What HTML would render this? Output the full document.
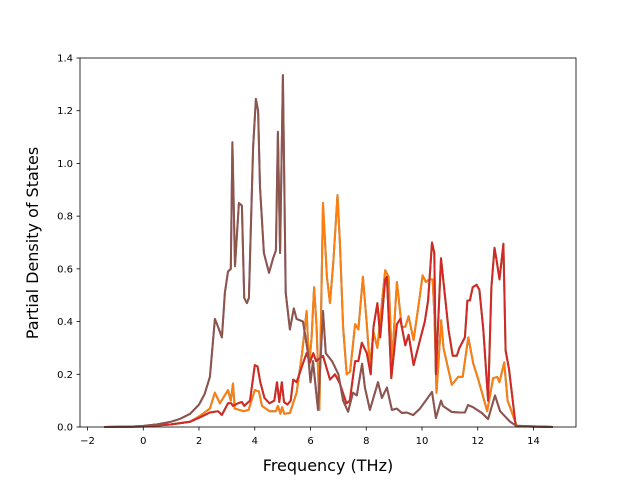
<!DOCTYPE html>
<html><head><meta charset="utf-8"><style>
body{margin:0;background:#fff}
svg text{font-family:"DejaVu Sans","Liberation Sans",sans-serif;fill:#000}
</style></head><body>
<svg id="chart" width="640" height="480" xmlns="http://www.w3.org/2000/svg">
<rect width="640" height="480" fill="#fff"/>
<g id="series"></g>
<g id="axes"></g>
<text x="328" y="471" font-size="16" text-anchor="middle">Frequency (THz)</text>
<text transform="translate(38,243) rotate(-90)" font-size="16" text-anchor="middle">Partial Density of States</text>
</svg>
<script>
const xTicks=[-2,0,2,4,6,8,10,12,14];
const yTicks=[0,0.2,0.4,0.6,0.8,1.0,1.2,1.4];
const brownF=[-1.4,-0.5,0,0.5,1,1.3,1.68,2.0,2.2,2.39,2.57,2.68,2.82,2.93,3.04,3.14,3.2,3.29,3.43,3.54,3.62,3.72,3.79,3.94,4.04,4.12,4.19,4.33,4.51,4.66,4.76,4.83,4.91,5.01,5.11,5.26,5.4,5.5,5.73,5.91,6.0,6.09,6.27,6.45,6.55,6.77,7.0,7.17,7.35,7.52,7.66,7.85,7.95,8.13,8.42,8.56,8.74,8.92,9.1,9.28,9.46,9.68,9.93,10.36,10.5,10.68,10.75,11.07,11.36,11.54,11.65,11.83,12.15,12.37,12.62,12.8,12.98,13.16,13.4,14.7];
const brownV=[0,0.001,0.004,0.01,0.02,0.03,0.05,0.085,0.125,0.19,0.41,0.38,0.34,0.51,0.59,0.6,1.08,0.61,0.85,0.84,0.49,0.47,0.49,1.06,1.245,1.2,0.91,0.66,0.585,0.64,0.67,1.12,0.66,1.335,0.51,0.37,0.45,0.41,0.4,0.28,0.17,0.25,0.065,0.44,0.28,0.25,0.2,0.1,0.058,0.13,0.12,0.24,0.15,0.065,0.17,0.11,0.15,0.065,0.07,0.053,0.055,0.045,0.07,0.133,0.034,0.1,0.08,0.057,0.055,0.055,0.083,0.075,0.053,0.03,0.12,0.06,0.04,0.02,0.003,0];
const redF=[-1.4,0,1,1.68,2.0,2.39,2.68,2.82,3.04,3.16,3.22,3.4,3.54,3.62,3.83,4.0,4.1,4.2,4.35,4.53,4.7,4.8,4.88,4.97,5.05,5.17,5.29,5.38,5.5,5.74,5.86,5.98,6.1,6.2,6.45,6.7,6.88,7.05,7.29,7.41,7.6,7.72,7.84,8.02,8.16,8.26,8.4,8.5,8.68,8.74,8.9,9.1,9.22,9.4,9.52,9.7,9.93,10.1,10.22,10.36,10.44,10.5,10.68,10.77,10.95,11.1,11.25,11.34,11.54,11.63,11.72,11.82,11.96,12.06,12.2,12.37,12.49,12.6,12.68,12.78,12.92,13.0,13.12,13.36,14.7];
const redV=[0,0.002,0.01,0.02,0.035,0.055,0.06,0.046,0.09,0.09,0.08,0.09,0.095,0.08,0.1,0.235,0.23,0.17,0.11,0.09,0.1,0.17,0.095,0.17,0.095,0.085,0.1,0.18,0.17,0.245,0.28,0.245,0.28,0.25,0.27,0.18,0.2,0.165,0.09,0.1,0.25,0.25,0.32,0.28,0.2,0.38,0.47,0.34,0.56,0.57,0.185,0.39,0.41,0.31,0.35,0.235,0.33,0.4,0.48,0.7,0.66,0.2,0.64,0.55,0.37,0.27,0.27,0.3,0.34,0.48,0.48,0.53,0.54,0.52,0.37,0.1,0.53,0.68,0.63,0.56,0.695,0.29,0.22,0.005,0];
const orangeF=[-1.4,0,1,1.68,2.0,2.39,2.57,2.75,3.04,3.14,3.22,3.28,3.6,3.78,4.0,4.15,4.26,4.53,4.76,4.83,4.92,4.98,5.06,5.26,5.5,5.7,5.86,5.95,6.04,6.13,6.22,6.32,6.45,6.59,6.7,6.82,6.97,7.06,7.17,7.3,7.42,7.6,7.72,7.88,8.02,8.13,8.26,8.4,8.68,8.8,8.92,9.1,9.27,9.4,9.52,9.7,9.9,10.02,10.14,10.26,10.38,10.45,10.52,10.69,10.77,11.07,11.3,11.46,11.54,11.66,11.84,12.02,12.34,12.55,12.7,12.78,12.95,13.07,13.28,13.4,14.7];
const orangeV=[0,0.002,0.01,0.02,0.04,0.07,0.13,0.09,0.14,0.1,0.165,0.07,0.06,0.065,0.14,0.135,0.08,0.06,0.06,0.08,0.05,0.075,0.05,0.053,0.13,0.28,0.44,0.23,0.34,0.53,0.38,0.065,0.85,0.57,0.47,0.63,0.88,0.69,0.38,0.2,0.21,0.39,0.37,0.57,0.39,0.23,0.36,0.3,0.595,0.57,0.24,0.55,0.38,0.38,0.42,0.33,0.48,0.575,0.55,0.56,0.56,0.42,0.13,0.405,0.3,0.16,0.19,0.19,0.25,0.34,0.24,0.18,0.06,0.185,0.19,0.17,0.245,0.1,0.04,0.003,0];
const L=80,R=576,T=58,B=427,YMAX=1.4;
function sx(f){return 143.25+f*27.875;}
function sy(v){return B-v*(B-T)/YMAX;}
const ns="http://www.w3.org/2000/svg";
const sg=document.getElementById('series'),ag=document.getElementById('axes');
function line(F,V,color,name){
  const p=document.createElementNS(ns,'polyline');
  p.setAttribute('points',F.map((f,i)=>sx(f).toFixed(1)+','+sy(V[i]).toFixed(1)).join(' '));
  p.setAttribute('fill','none');p.setAttribute('stroke',color);p.setAttribute('stroke-width','2');
  p.setAttribute('stroke-linejoin','round');
  
  
  sg.appendChild(p);
}
line(orangeF,orangeV,'#1f77b4','line-series-1');
line(orangeF,orangeV,'#ff7f0e','line-series-2');
line(redF,redV,'#2ca02c','line-series-3');
line(redF,redV,'#d62728','line-series-4');
line(brownF,brownV,'#9467bd','line-series-5');
line(brownF,brownV,'#8c564b','line-series-6');
const fr=document.createElementNS(ns,'rect');
fr.setAttribute('x',L);fr.setAttribute('y',T);fr.setAttribute('width',R-L);fr.setAttribute('height',B-T);
fr.setAttribute('fill','none');fr.setAttribute('stroke','#000');fr.setAttribute('stroke-width','0.8');


ag.appendChild(fr);
xTicks.forEach(t=>{
  const x=sx(t);
  const l=document.createElementNS(ns,'line');
  l.setAttribute('x1',x);l.setAttribute('x2',x);l.setAttribute('y1',B);l.setAttribute('y2',B+3.5);l.setAttribute('stroke','#000');l.setAttribute('stroke-width','0.8');
  
  
  ag.appendChild(l);
  const tx=document.createElementNS(ns,'text');
  tx.setAttribute('x',x);tx.setAttribute('y',B+17);tx.setAttribute('font-size','10');tx.setAttribute('text-anchor','middle');
  tx.textContent=(t<0?'\u2212'+(-t):t);
  
  
  ag.appendChild(tx);
});
yTicks.forEach(t=>{
  const y=sy(t);
  const l=document.createElementNS(ns,'line');
  l.setAttribute('x1',L-3.5);l.setAttribute('x2',L);l.setAttribute('y1',y);l.setAttribute('y2',y);l.setAttribute('stroke','#000');l.setAttribute('stroke-width','0.8');
  
  
  ag.appendChild(l);
  const tx=document.createElementNS(ns,'text');
  tx.setAttribute('x',L-7);tx.setAttribute('y',y+3.5);tx.setAttribute('font-size','10');tx.setAttribute('text-anchor','end');
  tx.textContent=t.toFixed(1);
  
  
  ag.appendChild(tx);
});
</script>
</body></html>
